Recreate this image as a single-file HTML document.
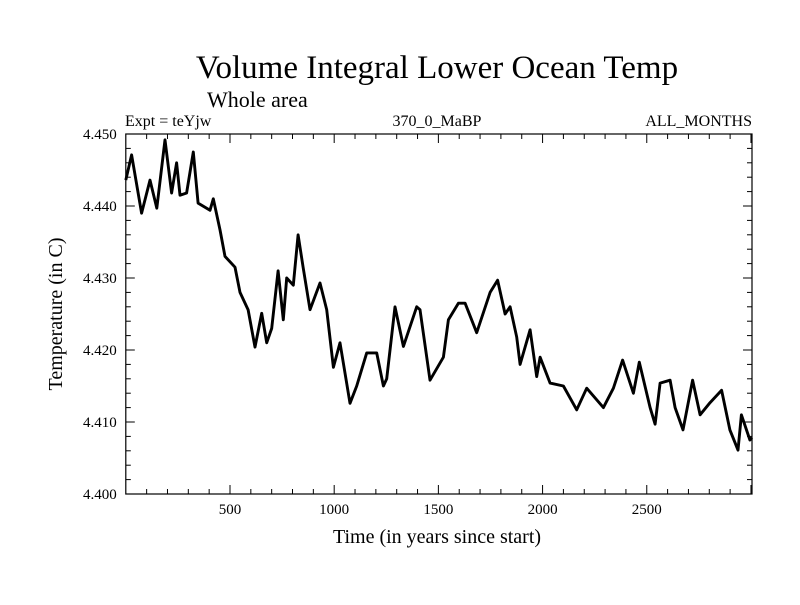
<!DOCTYPE html>
<html><head><meta charset="utf-8"><style>
body{margin:0;background:#fff}
svg text{font-family:"Liberation Serif",serif;fill:#000}
</style></head><body>
<svg id="chart" width="800" height="600" viewBox="0 0 800 600">
<rect width="800" height="600" fill="#fff"/>
<text x="437" y="78" font-size="33" text-anchor="middle">Volume Integral Lower Ocean Temp</text>
<text x="207" y="107" font-size="22">Whole area</text>
<text x="125" y="126" font-size="16">Expt = teYjw</text>
<text x="437" y="126" font-size="16" text-anchor="middle">370_0_MaBP</text>
<text x="752" y="126" font-size="16" text-anchor="end">ALL_MONTHS</text>
<text x="437" y="543" font-size="20" text-anchor="middle">Time (in years since start)</text>
<text x="0" y="0" font-size="20" text-anchor="middle" transform="translate(62,314) rotate(-90)">Temperature (in C)</text>
<g id="axes"></g>
<path id="line" fill="none" stroke="#000" stroke-width="2.9" stroke-linejoin="round"/>
</svg>
<script>
const years=[0,28,76,116,149,188,220,244,260,292,324,347,404,420,452,476,524,548,587,620,652,676,700,731,756,772,804,827,851,884,932,964,996,1028,1076,1108,1156,1204,1236,1252,1292,1332,1396,1412,1460,1524,1548,1596,1628,1684,1748,1784,1820,1844,1876,1892,1940,1972,1988,2036,2100,2164,2212,2292,2340,2384,2436,2464,2516,2540,2564,2612,2636,2674,2720,2756,2804,2859,2899,2938,2954,2995,3005];
const temps=[4.4436,4.4471,4.439,4.4436,4.4397,4.4492,4.4418,4.446,4.4415,4.4418,4.4475,4.4404,4.4394,4.441,4.4367,4.433,4.4315,4.428,4.4256,4.4204,4.4251,4.421,4.423,4.431,4.4242,4.430,4.429,4.436,4.4315,4.4256,4.4293,4.4256,4.4176,4.421,4.4126,4.415,4.4196,4.4196,4.415,4.416,4.426,4.4205,4.426,4.4256,4.4158,4.419,4.4242,4.4265,4.4265,4.4224,4.428,4.4297,4.425,4.426,4.4218,4.418,4.4228,4.4163,4.419,4.4154,4.415,4.4117,4.4147,4.412,4.4147,4.4186,4.414,4.4183,4.412,4.4097,4.4154,4.4158,4.412,4.4089,4.4158,4.411,4.4127,4.4144,4.4089,4.4061,4.411,4.4075,4.4078];
const xTicks=[500,1000,1500,2000,2500];
const yTicks=[4.400,4.410,4.420,4.430,4.440,4.450];
const X0=125.8,X1=752,Y0=134,Y1=494,xmin=0,xmax=3005,ymin=4.400,ymax=4.450;
const sx=v=>X0+(v-xmin)/(xmax-xmin)*(X1-X0);
const sy=v=>Y1-(v-ymin)/(ymax-ymin)*(Y1-Y0);
const NS='http://www.w3.org/2000/svg';
const g=document.getElementById('axes');
function mk(tag,attrs){const e=document.createElementNS(NS,tag);for(const k in attrs)e.setAttribute(k,attrs[k]);g.appendChild(e);return e;}
const frame=mk('rect',{x:X0,y:Y0,width:X1-X0,height:Y1-Y0,fill:'none',stroke:'#000','stroke-width':1.2});


for(let v=100;v<xmax;v+=100){const x=sx(v);const L=v%500===0?9:5;
 const t1=mk('line',{x1:x,y1:Y1,x2:x,y2:Y1-L,stroke:'#000'});
 
 
 const t2=mk('line',{x1:x,y1:Y0,x2:x,y2:Y0+L,stroke:'#000'});
 
 }
xTicks.forEach(v=>{const t=mk('text',{x:sx(v),y:Y1+20,'font-size':15,'text-anchor':'middle'});t.textContent=v;
 
 });
for(let i=0;i<=25;i++){const v=ymin+i*0.002;const y=sy(v);const L=i%5===0?9:5;
 const t1=mk('line',{x1:X0,y1:y,x2:X0+L,y2:y,stroke:'#000'});
 
 
 const t2=mk('line',{x1:X1,y1:y,x2:X1-L,y2:y,stroke:'#000'});
 
 }
yTicks.forEach(v=>{const t=mk('text',{x:X0-9,y:sy(v)+5,'font-size':15,'text-anchor':'end'});t.textContent=v.toFixed(3);
 
 });
document.getElementById('line').setAttribute('d',years.map((yr,i)=>(i?'L':'M')+sx(yr).toFixed(1)+','+sy(temps[i]).toFixed(1)).join(''));
</script>
</body></html>
